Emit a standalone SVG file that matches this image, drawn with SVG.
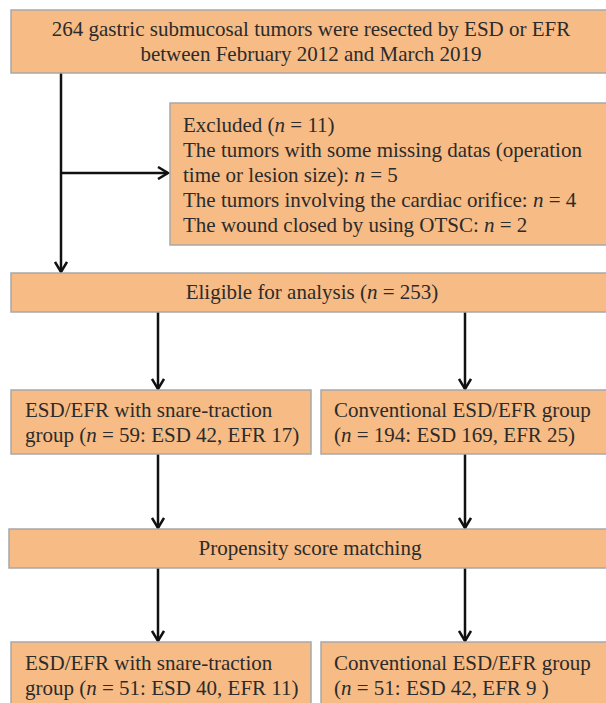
<svg xmlns="http://www.w3.org/2000/svg" width="606" height="703" viewBox="0 0 606 703">
<defs>
<style>
.box{fill:#F7BB85;stroke:#A8A8A8;stroke-width:1.5}
.t{font-family:"Liberation Serif","Times New Roman",serif;font-size:21px;fill:#2b2b2b}
.c{text-anchor:middle}
.ln{stroke:#111;stroke-width:2.5;fill:none}
</style>
<marker id="ah" viewBox="0 0 14 14" refX="12" refY="7" markerWidth="14" markerHeight="14" markerUnits="userSpaceOnUse" orient="auto">
<path d="M2,1 L12,7 L2,13" fill="none" stroke="#111" stroke-width="2.5"/>
</marker>
</defs>
<rect width="606" height="703" fill="#fff"/>
<g id="connectors">
<path class="ln" d="M61,73 V272" marker-end="url(#ah)"/>
<path class="ln" d="M61,173 H168" marker-end="url(#ah)"/>
<path class="ln" d="M158,312 V389" marker-end="url(#ah)"/>
<path class="ln" d="M465,312 V389" marker-end="url(#ah)"/>
<path class="ln" d="M158,454 V528" marker-end="url(#ah)"/>
<path class="ln" d="M465,454 V528" marker-end="url(#ah)"/>
<path class="ln" d="M158,568 V641" marker-end="url(#ah)"/>
<path class="ln" d="M465,568 V641" marker-end="url(#ah)"/>
</g>
<g id="start">
<rect class="box" x="11" y="10" width="600" height="63"/>
<text class="t c" x="311" y="36">264 gastric submucosal tumors were resected by ESD or EFR</text>
<text class="t c" x="311" y="61">between February 2012 and March 2019</text>
</g>
<g id="excluded">
<rect class="box" x="170" y="103" width="440" height="142"/>
<text class="t" x="183" y="132">Excluded (<tspan font-style="italic">n</tspan> = 11)</text>
<text class="t" x="183" y="157">The tumors with some missing datas (operation</text>
<text class="t" x="183" y="182">time or lesion size): <tspan font-style="italic">n</tspan> = 5</text>
<text class="t" x="183" y="207">The tumors involving the cardiac orifice: <tspan font-style="italic">n</tspan> = 4</text>
<text class="t" x="183" y="232">The wound closed by using OTSC: <tspan font-style="italic">n</tspan> = 2</text>
</g>
<g id="eligible">
<rect class="box" x="11" y="273" width="600" height="39"/>
<text class="t c" x="312" y="299">Eligible for analysis (<tspan font-style="italic">n</tspan> = 253)</text>
</g>
<g id="snare1">
<rect class="box" x="11" y="390" width="300" height="64"/>
<text class="t" x="25" y="417">ESD/EFR with snare-traction</text>
<text class="t" x="25" y="442">group (<tspan font-style="italic">n</tspan> = 59: ESD 42, EFR 17)</text>
</g>
<g id="conv1">
<rect class="box" x="321" y="390" width="290" height="64"/>
<text class="t" x="334" y="417">Conventional ESD/EFR group</text>
<text class="t" x="334" y="442">(<tspan font-style="italic">n</tspan> = 194: ESD 169, EFR 25)</text>
</g>
<g id="psm">
<rect class="box" x="9" y="529" width="602" height="39"/>
<text class="t c" x="310" y="555">Propensity score matching</text>
</g>
<g id="snare2">
<rect class="box" x="11" y="642" width="300" height="70"/>
<text class="t" x="25" y="670">ESD/EFR with snare-traction</text>
<text class="t" x="25" y="695">group (<tspan font-style="italic">n</tspan> = 51: ESD 40, EFR 11)</text>
</g>
<g id="conv2">
<rect class="box" x="321" y="642" width="290" height="70"/>
<text class="t" x="334" y="670">Conventional ESD/EFR group</text>
<text class="t" x="334" y="695">(<tspan font-style="italic">n</tspan> = 51: ESD 42, EFR 9 )</text>
</g>
</svg>
